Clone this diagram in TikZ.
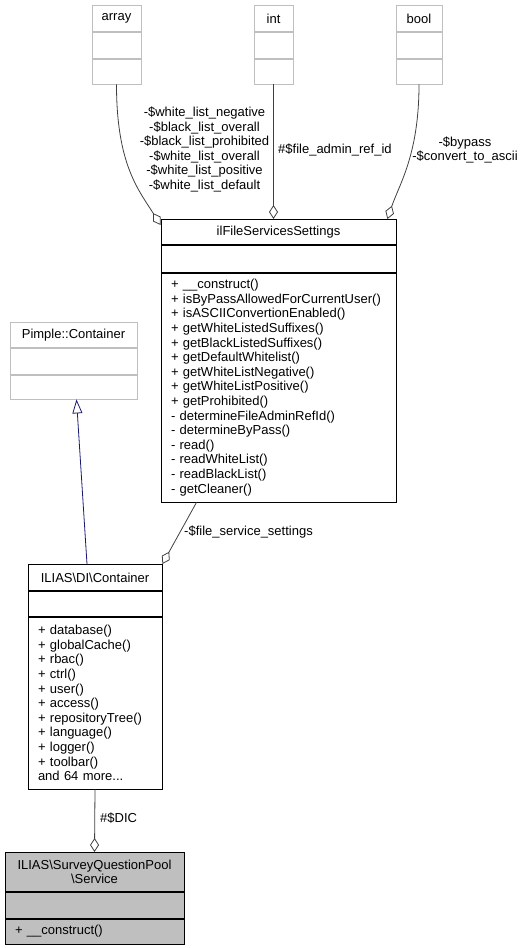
\documentclass[tikz,border=0pt]{standalone}
\usepackage{fontspec}
\setmainfont{Liberation Sans}
\usetikzlibrary{positioning,arrows.meta}
\definecolor{edgegray}{HTML}{404040}
\definecolor{boxgray}{HTML}{BFBFBF}
\definecolor{inheritblue}{HTML}{191970}
\tikzset{
  cls/.style={draw, line width=0.8pt, inner sep=0pt, align=center, anchor=north},
  extcls/.style={cls, draw=boxgray},
  ops/.style={cls, align=left, inner xsep=10pt},
  agg/.style={draw=edgegray, line width=0.8pt, -{Diamond[fill=white, length=14pt, width=9pt]}},
  inherit/.style={draw=inheritblue, line width=0.8pt, -{Triangle[open, length=14pt, width=10pt]}},
  lbl/.style={inner sep=0pt, align=center}
}
\begin{document}
\begin{tikzpicture}[x=1pt, y=-1pt, font=\fontsize{13pt}{14.6pt}\selectfont]
        \useasboundingbox (0,0) rectangle (532,948);
        \node[extcls, minimum width=49pt, minimum height=26pt] (array) at (116.5,5) {array};
        \node[extcls, minimum width=49pt, minimum height=26pt, below=0pt of array] (arrayattr) {};
        \node[extcls, minimum width=49pt, minimum height=25pt, below=0pt of arrayattr] (arrayops) {};
        \node[extcls, minimum width=39pt, minimum height=26pt] (int) at (273.5,5) {int};
        \node[extcls, minimum width=39pt, minimum height=26pt, below=0pt of int] (intattr) {};
        \node[extcls, minimum width=39pt, minimum height=25pt, below=0pt of intattr] (intops) {};
        \node[extcls, minimum width=46pt, minimum height=26pt] (bool) at (419,5) {bool};
        \node[extcls, minimum width=46pt, minimum height=26pt, below=0pt of bool] (boolattr) {};
        \node[extcls, minimum width=46pt, minimum height=25pt, below=0pt of boolattr] (boolops) {};
        \node[cls, minimum width=235pt, minimum height=25pt] (fss) at (278.5,219) {ilFileServicesSettings};
        \node[cls, minimum width=235pt, minimum height=27pt, below=0pt of fss] (fssattr) {};
        \node[ops, text width=215pt, minimum height=229pt, below=0pt of fssattr] (fssops) {+ \_\_construct()\\+ isByPassAllowedForCurrentUser()\\+ isASCIIConvertionEnabled()\\+ getWhiteListedSuffixes()\\+ getBlackListedSuffixes()\\+ getDefaultWhitelist()\\+ getWhiteListNegative()\\+ getWhiteListPositive()\\+ getProhibited()\\- determineFileAdminRefId()\\- determineByPass()\\- read()\\- readWhiteList()\\- readBlackList()\\- getCleaner()};
        \node[extcls, minimum width=127pt, minimum height=25pt] (pimple) at (73.5,322) {Pimple::Container};
        \node[extcls, minimum width=127pt, minimum height=26pt, below=0pt of pimple] (pimpleattr) {};
        \node[extcls, minimum width=127pt, minimum height=24pt, below=0pt of pimpleattr] (pimpleops) {};
        \node[cls, minimum width=134pt, minimum height=26pt] (dic) at (95,564) {ILIAS\textbackslash DI\textbackslash Container};
        \node[cls, minimum width=134pt, minimum height=25pt, below=0pt of dic] (dicattr) {};
        \node[ops, text width=114pt, minimum height=172pt, below=0pt of dicattr] (dicops) {+ database()\\+ globalCache()\\+ rbac()\\+ ctrl()\\+ user()\\+ access()\\+ repositoryTree()\\+ language()\\+ logger()\\+ toolbar()\\and 64 more...};
        \node[cls, fill=boxgray, minimum width=179pt, minimum height=39pt] (svc) at (94.5,852) {ILIAS\textbackslash SurveyQuestionPool\\\textbackslash Service};
        \node[cls, fill=boxgray, minimum width=179pt, minimum height=26pt, below=0pt of svc] (svcattr) {};
        \node[ops, fill=boxgray, text width=159pt, minimum height=25pt, below=0pt of svcattr] (svcops) {+ \_\_construct()};
        \draw[agg] (arrayops.south) .. controls +(0,80) and +(-22,-35) .. ([yshift=-6pt]fss.north west);
        \draw[agg] (intops.south) -- (intops.south |- fss.north);
        \draw[agg] (boolops.south) .. controls +(0,70) and +(12,-35) .. ([xshift=-9pt]fss.north east);
        \draw[agg] ([xshift=-82pt]fssops.south) -- (dic.north east);
        \draw[inherit] ([xshift=-8pt]dic.north) -- ([xshift=3pt]pimpleops.south);
        \draw[agg] (dicops.south) -- (svc.north);
        \node[lbl] (arraylbl) at (204.5,149.5) {-\$white\_list\_negative\\-\$black\_list\_overall\\-\$black\_list\_prohibited\\-\$white\_list\_overall\\-\$white\_list\_positive\\-\$white\_list\_default};
        \node[lbl, anchor=west] (intlbl) at (278,150) {\#\$file\_admin\_ref\_id};
        \node[lbl] (boollbl) at (465,150) {-\$bypass\\-\$convert\_to\_ascii};
        \node[lbl, anchor=west] (fsslbl) at (184,532) {-\$file\_service\_settings};
        \node[lbl, anchor=west] (diclbl) at (100,818) {\#\$DIC};
    \end{tikzpicture}
\end{document}
